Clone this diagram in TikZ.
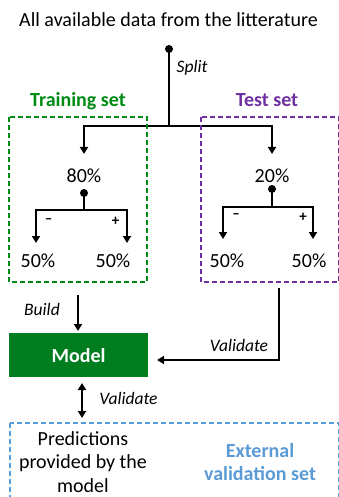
\documentclass[tikz,border=0pt]{standalone}
\usepackage{fontspec}
\setmainfont{Carlito}
\usetikzlibrary{arrows.meta}
\definecolor{tgreen}{RGB}{0,140,20}
\definecolor{mgreen}{RGB}{0,125,30}
\definecolor{tpurple}{RGB}{112,48,160}
\definecolor{eblue}{RGB}{91,155,213}
\begin{document}
\begin{tikzpicture}[x=1pt,y=-1pt,
  line/.style={line width=2.6pt},
  conn/.style={line width=2.6pt,-{Triangle[width=8pt,length=7pt]}},
  dconn/.style={line width=2.6pt,{Triangle[width=8pt,length=7pt]}-{Triangle[width=8pt,length=7pt]}},
  dotc/.style={circle,fill,inner sep=0pt,minimum size=8pt},
  main/.style={font=\fontsize{20}{24}\selectfont,inner sep=0pt,anchor=base},
  lab/.style={font=\fontsize{17.5}{21}\selectfont\itshape,inner sep=0pt,anchor=base},
  ttl/.style={font=\fontsize{20}{24}\selectfont\bfseries,inner sep=0pt,anchor=base},
  sgn/.style={font=\fontsize{15}{17}\selectfont\bfseries,inner sep=0pt},
  dbox/.style={dash pattern=on 5pt off 3pt,line width=1.3pt}]
\useasboundingbox (0,0) rectangle (338,497);
% title
\node[main] (title) at (168.5,27) {All available data from the litterature};
% split
\node[dotc] (d0) at (169,49) {};
\coordinate (b0) at (169,126);
\coordinate (a80) at (84,154);
\coordinate (a20) at (272,154);
\draw[line] (d0.center) -- (b0);
\draw[conn] (b0) -| (a80);
\draw[conn] (b0) -| (a20);
\node[lab] (split) at (192,73) {Split};
% set titles
\node[ttl,text=tgreen] (trainlab) at (78,107) {Training set};
\node[ttl,text=tpurple] (testlab) at (267,107) {Test set};
% boxes
\draw[dbox,tgreen] (9,117) rectangle (147,282);
\draw[dbox,tpurple] (201,117) rectangle (339,282);
% 80%
\node[main] (p80) at (84,182) {80\%};
\node[dotc] (d80) at (84,193) {};
\coordinate (b80) at (84,210);
\coordinate (tl1) at (36,243);
\coordinate (tl2) at (127,243);
\draw[line] (d80.center) -- (b80);
\draw[conn] (b80) -| (tl1);
\draw[conn] (b80) -| (tl2);
\node[sgn] (m1) at (48.5,221) {--};
\node[sgn] (pl1) at (115.5,221) {+};
\node[main] (l1) at (38,267) {50\%};
\node[main] (l2) at (113,267) {50\%};
% 20%
\node[main] (p20) at (272,182) {20\%};
\node[dotc] (d20) at (272,189) {};
\coordinate (b20) at (272,207);
\coordinate (tr1) at (223,239);
\coordinate (tr2) at (313,239);
\draw[line] (d20.center) -- (b20);
\draw[conn] (b20) -| (tr1);
\draw[conn] (b20) -| (tr2);
\node[sgn] (m2) at (236,216) {--};
\node[sgn] (pl2) at (303,217) {+};
\node[main] (r1) at (227,267) {50\%};
\node[main] (r2) at (309,267) {50\%};
% model
\node[fill=mgreen,minimum width=139pt,minimum height=44pt,inner sep=0pt] (model) at (78.5,355) {};
\node[ttl,text=white] (modellab) at (78.5,362) {Model};
\coordinate (bs) at (78,295);
\coordinate (be) at (78,331);
\draw[conn] (bs) -- (be);
\node[lab] (build) at (42,315) {Build};
\coordinate (vs) at (279,288);
\coordinate (vt) at (157,360);
\draw[conn] (vs) |- (vt);
\node[lab] (val1) at (239,351) {Validate};
\coordinate (ds) at (82,383);
\coordinate (de) at (82,418);
\draw[dconn] (ds) -- (de);
\node[lab] (val2) at (128.5,404) {Validate};
% external
\draw[dbox,eblue] (10,423) rectangle (339,500);
\node[main] (pr1) at (83,445) {Predictions};
\node[main] (pr2) at (83,468.5) {provided by the};
\node[main] (pr3) at (83,492) {model};
\node[ttl,text=eblue] (ex1) at (260,457) {External};
\node[ttl,text=eblue] (ex2) at (260,480) {validation set};
\end{tikzpicture}
\end{document}
